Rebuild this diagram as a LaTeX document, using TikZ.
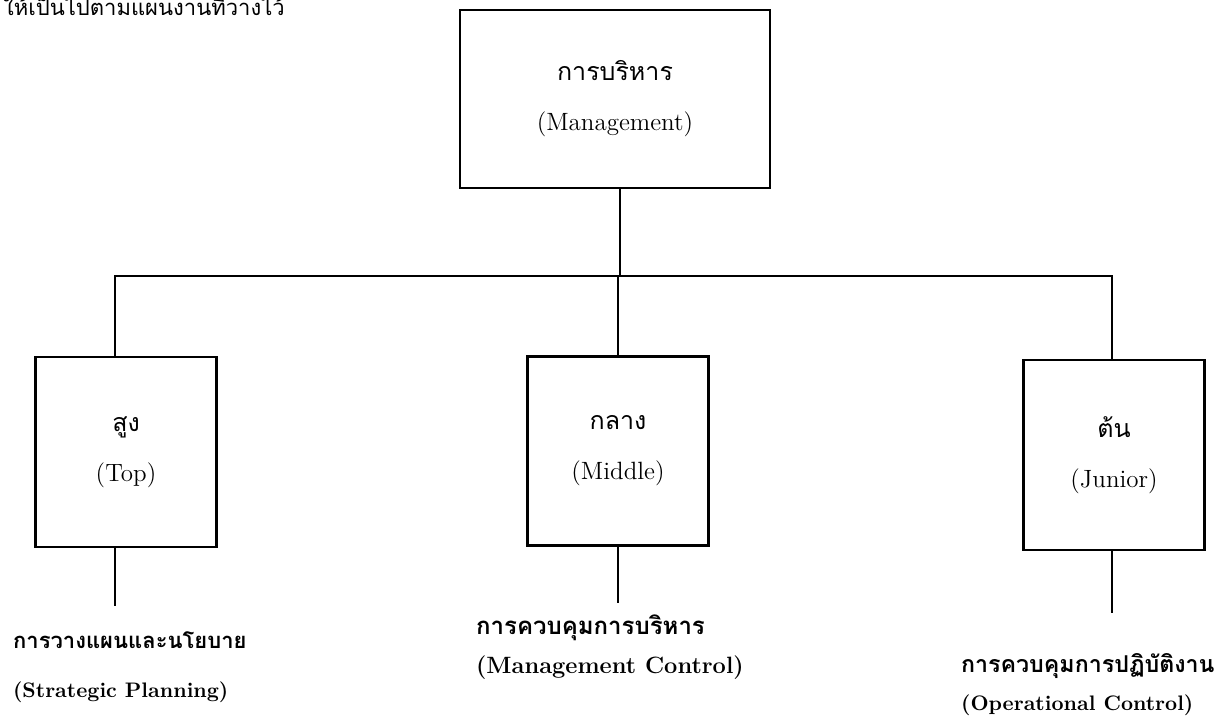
\documentclass[tikz,border=0pt]{standalone}
\usepackage{fontspec}
\newfontfamily\thaifont[Script=Thai]{Loma}
\usetikzlibrary{positioning}

\begin{document}
\begin{tikzpicture}[
x=0.5pt, y=-0.5pt,
line width=1.1pt,
box/.style={draw, rectangle, align=center, inner sep=0pt,
  minimum width=90.5pt, minimum height=95pt,
  font=\fontsize{12.5}{25}\selectfont},
thai/.style={font=\thaifont\bfseries\fontsize{11}{13}\selectfont, anchor=base west, inner sep=0pt},
eng/.style={font=\bfseries\fontsize{10.5}{13}\selectfont, anchor=base west, inner sep=0pt},
]
\useasboundingbox (0,0) rectangle (1214,726);
% text from the page above
\node[font=\thaifont\fontsize{11}{13}\selectfont, anchor=base west, inner sep=0pt] (cut) at (2,16) {ให้เป็นไปตามแผนงานที่วางไว้};
% nodes
\node[box, minimum width=155pt, minimum height=89pt] (mgmt) at (615,99) {{\thaifont การบริหาร}\\(Management)};
\node[box] (top) at (126,452) {{\thaifont สูง}\\(Top)};
\node[box, minimum height=94.5pt] (mid) at (618,451) {{\thaifont กลาง}\\(Middle)};
\node[box] (jun) at (1114,455) {{\thaifont ต้น}\\(Junior)};
\coordinate (bus) at (0,276);
% lines
\draw ([xshift=2.5pt]mgmt.south) -- ([xshift=2.5pt]mgmt.south |- bus);
\draw ([xshift=-5.5pt]top.north) -- ([xshift=-5.5pt]top.north |- bus)
  -- ([xshift=-1pt]jun.north |- bus) -- ([xshift=-1pt]jun.north);
\draw (mid.north) -- (mid.north |- bus);
% bottom labels
\node[thai] (plan) at (12,648) {การวางแผนและนโยบาย};
\node[eng] (planEn) at (12,697) {(Strategic Planning)};
\node[thai, font=\thaifont\bfseries\fontsize{12}{14}\selectfont] (ctrl) at (475,634) {การควบคุมการบริหาร};
\node[eng, font=\bfseries\fontsize{11.8}{13}\selectfont] (ctrlEn) at (475,673) {(Management Control)};
\node[thai, font=\thaifont\bfseries\fontsize{11.6}{13}\selectfont] (oper) at (960,672) {การควบคุมการปฏิบัติงาน};
\node[eng] (operEn) at (960,710) {(Operational Control)};
\coordinate (planEnd) at (115,606);
\coordinate (ctrlEnd) at (618,603);
\coordinate (operEnd) at (1112,613);
\draw ([xshift=-5.5pt]top.south) -- (planEnd);
\draw (mid.south) -- (ctrlEnd);
\draw ([xshift=-1pt]jun.south) -- (operEnd);
\end{tikzpicture}
\end{document}
